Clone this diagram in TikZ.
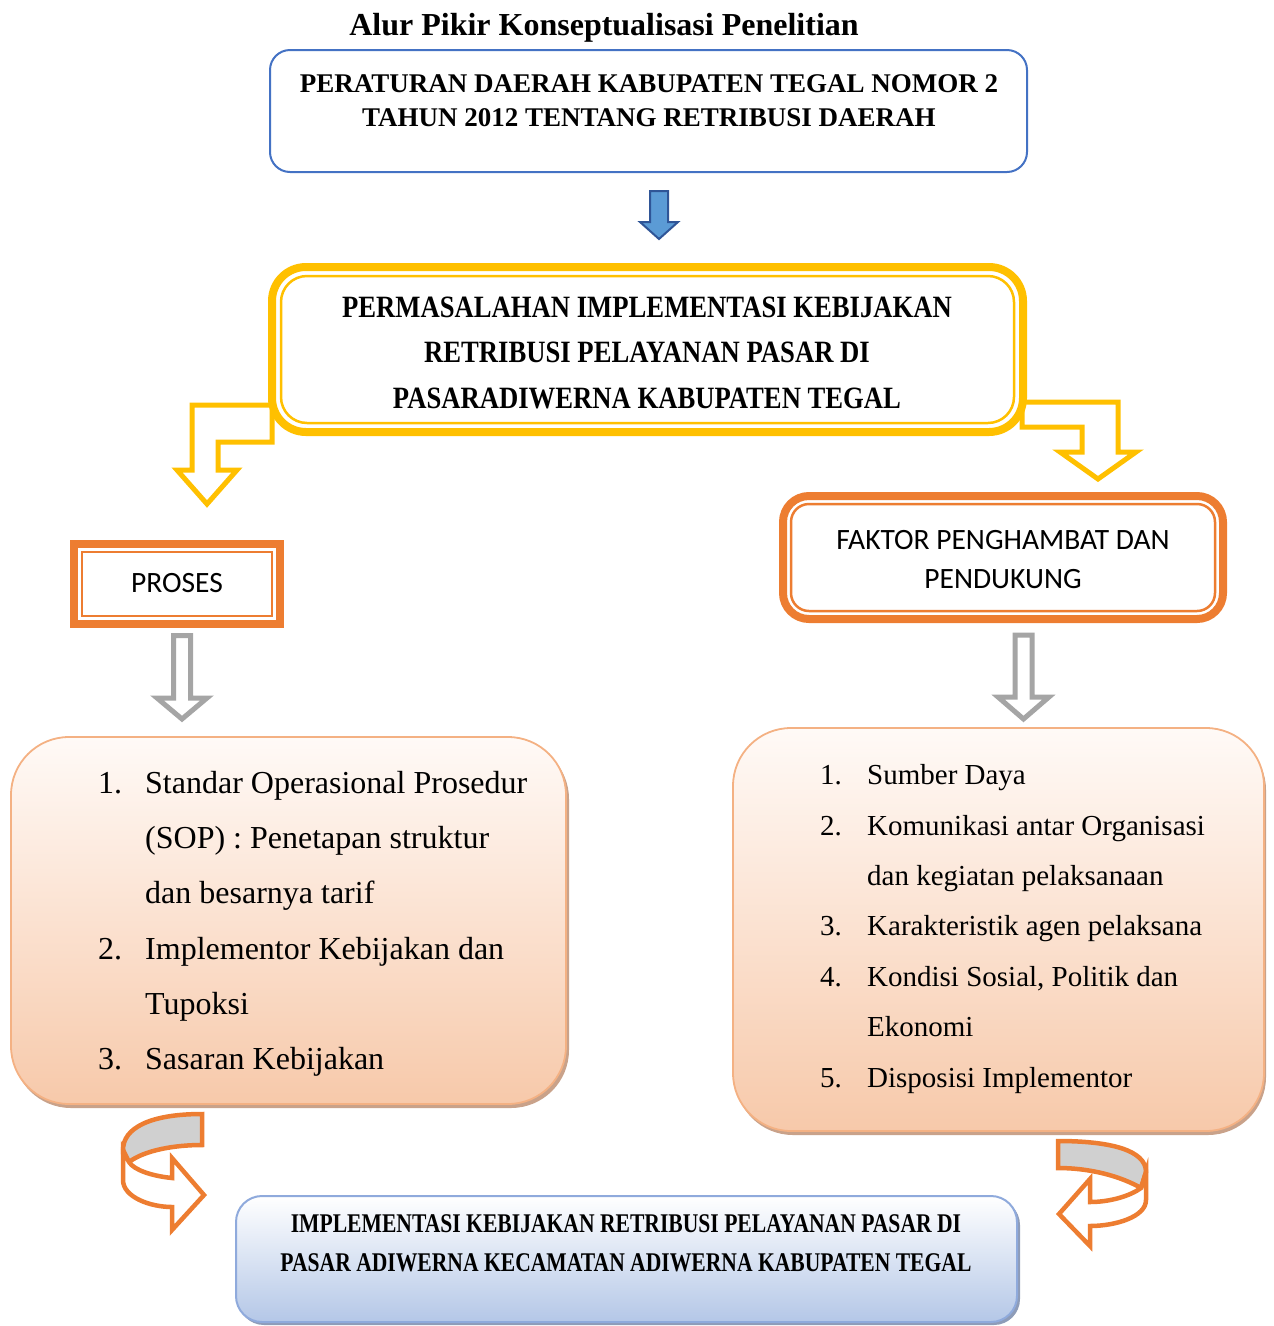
\documentclass[tikz,border=0pt]{standalone}
\usepackage{fontspec}
\setmainfont{Liberation Serif}
\newfontfamily\calib{Carlito}
\definecolor{boxblue}{HTML}{4472C4}
\definecolor{arrblue}{HTML}{5B9BD5}
\definecolor{arrbluedk}{HTML}{2F5597}
\definecolor{myyellow}{HTML}{FFC000}
\definecolor{myorange}{HTML}{ED7D31}
\definecolor{arrgray}{HTML}{A5A5A5}
\definecolor{peachborder}{HTML}{F4B183}
\definecolor{peachtop}{HTML}{FFFAF7}
\definecolor{peachbot}{HTML}{F7C9AA}
\definecolor{peachshadow}{HTML}{C9A28A}
\definecolor{bluebot}{HTML}{B4C7E7}
\definecolor{blueborder}{HTML}{8FAADC}
\definecolor{blueshadow}{HTML}{8E9CB8}
\definecolor{ribbon}{HTML}{D0D0D0}
\begin{document}
\begin{tikzpicture}[x=1pt,y=-1pt,
  txt/.style={anchor=base, inner sep=0pt},
  boldbig/.style={txt, font=\fontsize{27}{30}\selectfont\bfseries},
  yeltxt/.style={txt, font=\fontsize{31}{34}\selectfont\bfseries},
  bottxt/.style={txt, font=\fontsize{27}{30}\selectfont\bfseries},
  sanstxt/.style={txt, font=\calib\fontsize{29.5}{32}\selectfont},
  leftlist/.style={anchor=base west, inner sep=0pt, font=\fontsize{32}{36}\selectfont},
  rightlist/.style={anchor=base west, inner sep=0pt, font=\fontsize{29}{33}\selectfont},
  yelarrow/.style={draw=myyellow, fill=white, line width=5pt, line join=miter},
  grayarrow/.style={draw=arrgray, fill=white, line width=5pt, line join=miter},
  curvarrow/.style={draw=myorange, line width=4.5pt, line join=miter},
  thickframe/.style={line width=8pt, fill=white},
  thinframe/.style={line width=2.5pt}
]
\useasboundingbox (0,0) rectangle (1274,1326);

% title
\node[txt, font=\fontsize{32}{36}\selectfont\bfseries] (title) at (604,35) {Alur Pikir Konseptualisasi Penelitian};

% box 1
\draw[draw=boxblue, line width=2pt, fill=white, rounded corners=20pt] (270,50) rectangle (1027,172);
\node[boldbig] (b1a) at (649,92) {PERATURAN DAERAH KABUPATEN TEGAL NOMOR 2};
\node[boldbig] (b1b) at (649,126) {TAHUN 2012 TENTANG RETRIBUSI DAERAH};

% blue arrow
\draw[fill=arrblue, draw=arrbluedk, line width=2pt, line join=miter]
  (650,191) -- (668,191) -- (668,222) -- (678,222) -- (659,239) -- (640,222) -- (650,222) -- cycle;

% yellow bent arrows
\draw[yelarrow] (192,405) -- (272,405) -- (272,442) -- (218,442) -- (218,470) -- (237,470)
  -- (207,504) -- (177,470) -- (192,470) -- cycle;
\draw[yelarrow] (1022,402) -- (1118,402) -- (1118,452) -- (1136,452) -- (1098,479)
  -- (1060,452) -- (1082,452) -- (1082,427) -- (1022,427) -- cycle;

% yellow box
\draw[thickframe, draw=myyellow, rounded corners=34pt] (272,267) rectangle (1023,432);
\draw[thinframe, draw=myyellow, rounded corners=26pt] (281,276) rectangle (1014,423);
\node[yeltxt] (y1) at (647,317) {\scalebox{0.86}[1]{PERMASALAHAN IMPLEMENTASI KEBIJAKAN}};
\node[yeltxt] (y2) at (647,362) {\scalebox{0.86}[1]{RETRIBUSI PELAYANAN PASAR DI}};
\node[yeltxt] (y3) at (647,408) {\scalebox{0.86}[1]{PASARADIWERNA KABUPATEN TEGAL}};

% PROSES box
\draw[thickframe, draw=myorange] (74,544) rectangle (280,624);
\draw[thinframe, draw=myorange] (82,552) rectangle (272,616);
\node[sanstxt] (proses) at (177,592) {PROSES};

% FAKTOR box
\draw[thickframe, draw=myorange, rounded corners=26pt] (783,496) rectangle (1223,619);
\draw[thinframe, draw=myorange, rounded corners=18pt] (791,504) rectangle (1215,611);
\node[sanstxt] (f1) at (1003,549) {FAKTOR PENGHAMBAT DAN};
\node[sanstxt] (f2) at (1003,588) {PENDUKUNG};

% gray arrows
\draw[grayarrow] (173.5,635.5) -- (190.5,635.5) -- (190.5,698) -- (207,698) -- (182,719)
  -- (157,698) -- (173.5,698) -- cycle;
\draw[grayarrow] (1015,635) -- (1032,635) -- (1032,697) -- (1049,697) -- (1023.5,719)
  -- (998,697) -- (1015,697) -- cycle;

% left list box
\fill[peachshadow, rounded corners=58pt] (13,741) rectangle (569,1108);
\draw[draw=peachborder, line width=1.8pt, top color=peachtop, bottom color=peachbot, rounded corners=58pt]
  (11,737) rectangle (566,1104);
\node[leftlist] (l1n) at (98,793) {1.};
\node[leftlist] (l1a) at (145,793) {Standar Operasional Prosedur};
\node[leftlist] (l1b) at (145,848) {(SOP) : Penetapan struktur};
\node[leftlist] (l1c) at (145,903) {dan besarnya tarif};
\node[leftlist] (l2n) at (98,959) {2.};
\node[leftlist] (l2a) at (145,959) {Implementor Kebijakan dan};
\node[leftlist] (l2b) at (145,1014) {Tupoksi};
\node[leftlist] (l3n) at (98,1069) {3.};
\node[leftlist] (l3a) at (145,1069) {Sasaran Kebijakan};

% right list box
\fill[peachshadow, rounded corners=58pt] (735,732) rectangle (1266,1135);
\draw[draw=peachborder, line width=1.8pt, top color=peachtop, bottom color=peachbot, rounded corners=58pt]
  (733,728) rectangle (1264,1131);
\node[rightlist] (r1n) at (820,784.5) {1.};
\node[rightlist] (r1a) at (867,784.5) {Sumber Daya};
\node[rightlist] (r2n) at (820,835) {2.};
\node[rightlist] (r2a) at (867,835) {Komunikasi antar Organisasi};
\node[rightlist] (r2b) at (867,885) {dan kegiatan pelaksanaan};
\node[rightlist] (r3n) at (820,935.5) {3.};
\node[rightlist] (r3a) at (867,935.5) {Karakteristik agen pelaksana};
\node[rightlist] (r4n) at (820,986) {4.};
\node[rightlist] (r4a) at (867,986) {Kondisi Sosial, Politik dan};
\node[rightlist] (r4b) at (867,1036) {Ekonomi};
\node[rightlist] (r5n) at (820,1087) {5.};
\node[rightlist] (r5a) at (867,1087) {Disposisi Implementor};

% left curved arrow
\draw[curvarrow, fill=ribbon]
  (202,1114) .. controls (150,1114) and (123,1128) .. (123,1150)
  .. controls (123,1156) .. (129,1162)
  .. controls (145,1150) and (175,1145) .. (202,1145) -- cycle;
\draw[curvarrow, fill=white]
  (123,1150) -- (123,1180) .. controls (123,1197) and (150,1207) .. (172,1207)
  -- (172,1230) -- (204,1195) -- (172,1158) -- (172,1178)
  .. controls (152,1176) and (134,1170) .. (129,1162) -- cycle;

% right curved arrow
\draw[curvarrow, fill=ribbon]
  (1058,1141) .. controls (1110,1141) and (1146,1150) .. (1146,1172)
  -- (1141,1188) .. controls (1120,1176) and (1090,1168) .. (1058,1168) -- cycle;
\draw[curvarrow, fill=white]
  (1146,1172) -- (1146,1200) .. controls (1146,1217) and (1115,1226) .. (1090,1226)
  -- (1090,1246) -- (1059,1214) -- (1090,1179) -- (1090,1202)
  .. controls (1110,1202) and (1130,1196) .. (1141,1188) -- cycle;

% bottom box
\fill[blueshadow, rounded corners=26pt] (238,1199) rectangle (1020,1325);
\draw[draw=blueborder, line width=2pt, top color=white, bottom color=bluebot, rounded corners=26pt]
  (236,1196) rectangle (1017,1322);
\node[bottxt] (bt1) at (626,1232) {\scalebox{0.8}[1]{IMPLEMENTASI KEBIJAKAN RETRIBUSI PELAYANAN PASAR DI}};
\node[bottxt] (bt2) at (626,1271) {\scalebox{0.8}[1]{PASAR ADIWERNA KECAMATAN ADIWERNA KABUPATEN TEGAL}};
\end{tikzpicture}
\end{document}
